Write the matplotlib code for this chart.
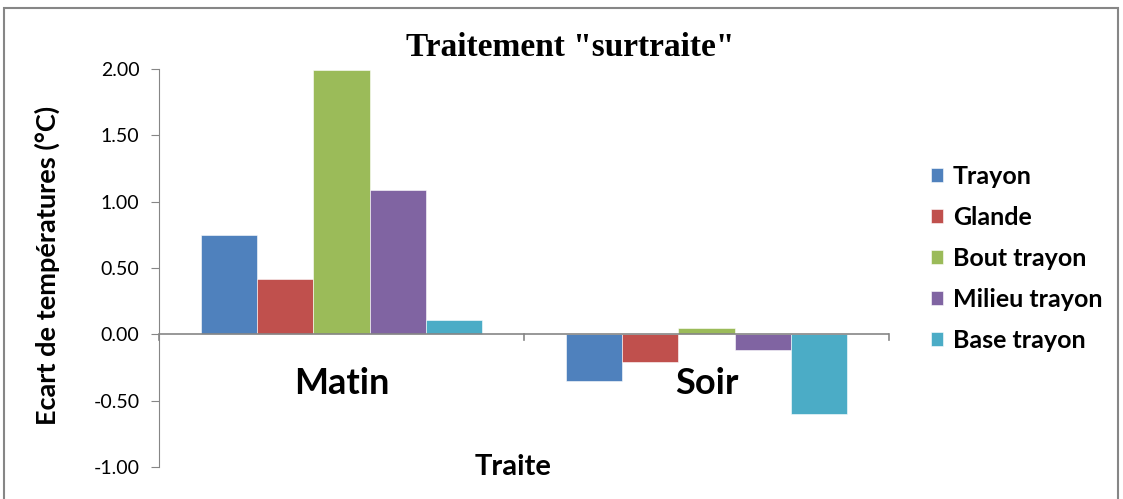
import matplotlib.pyplot as plt
from matplotlib.patches import Rectangle
import numpy as np

# ---- donnees ----
categories = ['Matin', 'Soir']
series = ['Trayon', 'Glande', 'Bout trayon', 'Milieu trayon', 'Base trayon']
trayon = [0.75, -0.35]
glande = [0.42, -0.21]
bout_trayon = [1.99, 0.05]
milieu_trayon = [1.09, -0.12]
base_trayon = [0.11, -0.60]
yticks = [-1.0, -0.5, 0.0, 0.5, 1.0, 1.5, 2.0]

valeurs = [trayon, glande, bout_trayon, milieu_trayon, base_trayon]
couleurs = ['#4F81BD', '#C0504D', '#9BBB59', '#8064A2', '#4BACC6']

plt.rcParams['font.family'] = ['Lato', 'DejaVu Sans']
gris = '#868686'

fig = plt.figure(figsize=(11.23, 4.99), dpi=100)
# cadre du graphique (style Excel)
fig.patches.append(Rectangle((4 / 1123, -0.1), 1114 / 1123, 1.1 - 8 / 499,
                             transform=fig.transFigure, fill=False,
                             edgecolor=gris, linewidth=1.5))

ax = fig.add_axes([159 / 1123, 1 - 467 / 499, 730 / 1123, 398 / 499])

x = np.arange(len(categories)) + 0.5
w = 0.77 / len(series)
for i, (nom, vals) in enumerate(zip(series, valeurs)):
    ax.bar(x + (i - 2) * w, vals, width=w, color=couleurs[i], label=nom,
           edgecolor='white', linewidth=0.4, zorder=3)

ax.set_xlim(0, 2)
ax.set_ylim(-1.0, 2.0)
ax.set_yticks(yticks)
ax.set_yticklabels([f'{v:.2f}' for v in yticks], fontsize=14)

# axe des x a zero, graduations aux limites de categories
for s in ['top', 'right', 'bottom']:
    ax.spines[s].set_visible(False)
ax.spines['left'].set_color(gris)
ax.axhline(0, color=gris, linewidth=1.2, zorder=4)
for xb in [0, 1, 2]:
    ax.plot([xb, xb], [0, -0.045], color=gris, linewidth=1.2, clip_on=False)
ax.set_xticks([])
ax.tick_params(axis='y', length=6, color=gris, direction='out', pad=8)

for xc, cat in zip(x, categories):
    ax.text(xc, -0.37, cat, ha='center', va='center', fontsize=26,
            fontweight='bold', zorder=5)

fig.text(47 / 1123, 1 - 265 / 499, 'Ecart de températures (°C)',
         rotation=90, ha='center', va='center', fontsize=19.5,
         fontweight='bold')
fig.text(513 / 1123, 1 - 467 / 499, 'Traite', ha='center', va='center',
         fontsize=21, fontweight='bold')
fig.text(570 / 1123, 1 - 47 / 499, 'Traitement "surtraite"', ha='center',
         va='center', fontsize=24, fontweight='bold',
         family='Liberation Serif')

ax.legend(loc='upper left', bbox_to_anchor=(908 / 1123, 1 - 142 / 499),
          bbox_transform=fig.transFigure, frameon=False,
          handlelength=0.5, handleheight=0.5, handletextpad=0.4,
          labelspacing=0.72, prop={'weight': 'bold', 'size': 18})

plt.savefig('out.png', dpi=100)
